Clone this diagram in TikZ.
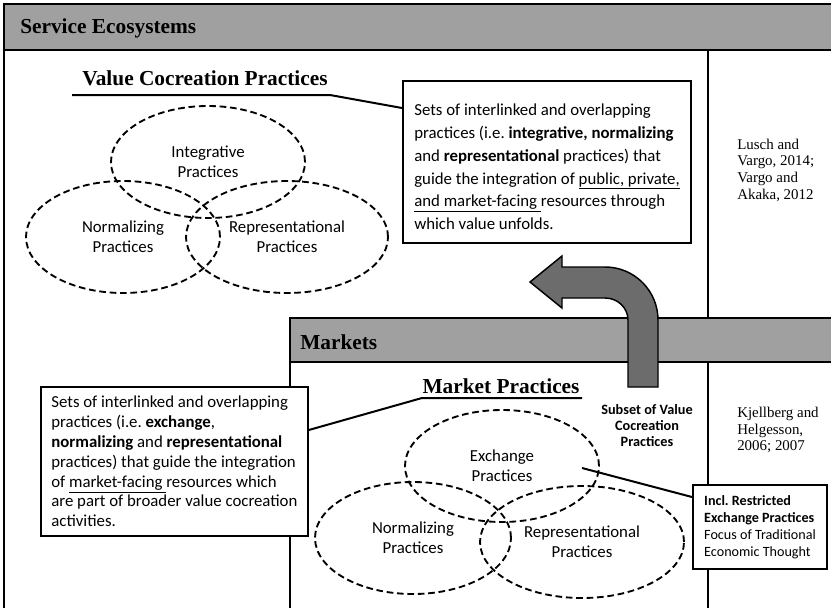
\documentclass[tikz,border=0pt]{standalone}
\usepackage{fontspec}
\setmainfont{Liberation Serif}
\newfontfamily\calfont{Carlito}
\usetikzlibrary{shapes.geometric,calc,positioning}
\definecolor{hdrgray}{HTML}{A0A0A0}
\definecolor{arrowgray}{HTML}{6C6C6C}
\frenchspacing

\begin{document}
\begin{tikzpicture}[x=0.75pt, y=-0.75pt,
  frame/.style={line width=2pt},
  hdr/.style={draw, line width=2pt, fill=hdrgray},
  hdrtext/.style={anchor=west, inner sep=0pt, font=\bfseries\fontsize{16}{18}\selectfont},
  title/.style={inner sep=0pt, font=\bfseries\fontsize{16}{18}\selectfont},
  prac/.style={ellipse, draw, line width=1.4pt, dash pattern=on 5pt off 2.8pt, minimum height=84pt, inner sep=0pt, align=center, font=\calfont\fontsize{12.6}{15}\selectfont},
  note/.style={draw, line width=1.6pt, fill=white, anchor=north west, align=left, inner sep=0pt, font=\calfont\fontsize{12.6}{17.1}\selectfont},
  ref/.style={anchor=west, align=left, inner sep=0pt, font=\fontsize{11.2}{12.5}\selectfont},
  link/.style={line width=1.5pt}
]
\useasboundingbox (0,0) rectangle (831,607);

% service ecosystems frame
\draw[hdr] (4,4) rectangle (850,50);
\draw[frame] (4,50) -- (4,620);
\node[hdrtext] (seh) at (20,28) {Service Ecosystems};
\draw[frame] (708,50) -- (708,620);

% markets frame
\draw[hdr] (290,318) rectangle (850,362);
\draw[frame] (290,362) -- (290,620);
\node[hdrtext] (mkh) at (300,342) {Markets};

% value cocreation practices
\node[title] (vct) at (205,78) {Value Cocreation Practices};
\coordinate (vcu1) at (72,95);
\coordinate (vcu2) at (330,95);
\node[prac, minimum width=145.5pt] (int)  at (208,162) {Integrative\\Practices};
\node[prac, minimum width=145.5pt] (nrm1) at (123,237) {Normalizing\\Practices};
\node[prac, minimum width=151.5pt] (rep1) at (287,237) {Representational\\Practices};

\node[note, minimum width=216pt, minimum height=121.5pt] (topbox) at (402,80)
  {\rule{0pt}{16pt}Sets of interlinked and overlapping\\
   practices (i.e. \textbf{integrative, normalizing}\\
   and \textbf{representational} practices) that\\
   guide the integration of \underline{public, private,}\\
   \underline{and market-facing\ }resources through\\
   which value unfolds.};
\draw[link] (vcu1) -- (vcu2) -- ($(topbox.north west)+(0,28)$);

\node[ref] (lusch) at (737,170) {Lusch and\\Vargo, 2014;\\Vargo and\\Akaka, 2012};

% market practices
\node[title] (mpt) at (501,386) {Market Practices};
\coordinate (mpu1) at (422,398);
\coordinate (mpu2) at (582,398);
\node[prac, minimum width=145.5pt] (exc)  at (502,466) {Exchange\\Practices};
\node[prac, minimum width=147pt]   (nrm2) at (413,538) {Normalizing\\Practices};
\node[prac, minimum width=153pt]   (rep2) at (582,542) {Representational\\Practices};

\node[note, minimum width=200pt, minimum height=111.75pt,
  font=\calfont\fontsize{12.6}{14.85}\selectfont] (lowbox) at (40,386)
  {Sets of interlinked and overlapping\\
   practices (i.e. \textbf{exchange},\\
   \textbf{normalizing} and \textbf{representational}\\
   practices) that guide the integration\\
   of \underline{market-facing\ }resources which\\
   are part of broader value cocreation\\
   activities.};
\draw[link] (mpu2) -- (mpu1) -- ($(lowbox.north east)+(0,44)$);

\node[note, minimum width=100.5pt, minimum height=63pt,
  font=\calfont\fontsize{10.6}{12.75}\selectfont] (incl) at (692,484)
  {\textbf{Incl. Restricted}\\
   \textbf{Exchange Practices}\\
   Focus of Traditional\\
   Economic Thought};
\coordinate (exclk) at (582,468);
\draw[link] (exclk) -- ($(incl.north west)+(0,13)$);

\node[align=center, inner sep=0pt, font=\calfont\bfseries\fontsize{10.7}{12}\selectfont] (sub) at (647,426)
  {Subset of Value\\Cocreation\\Practices};
\node[ref] (kjell) at (737,430) {Kjellberg and\\Helgesson,\\2006; 2007};

% subset arrow
\draw[line width=1.1pt, fill=arrowgray]
  (530,282) -- (562,256) -- (562,267) -- (605,267)
  .. controls (634.3,267) and (658,290.7) .. (658,320)
  -- (658,387) -- (628,387) -- (628,320)
  .. controls (628,307.8) and (617.7,298) .. (605,298)
  -- (562,298) -- (562,308) -- cycle;
\end{tikzpicture}
\end{document}
